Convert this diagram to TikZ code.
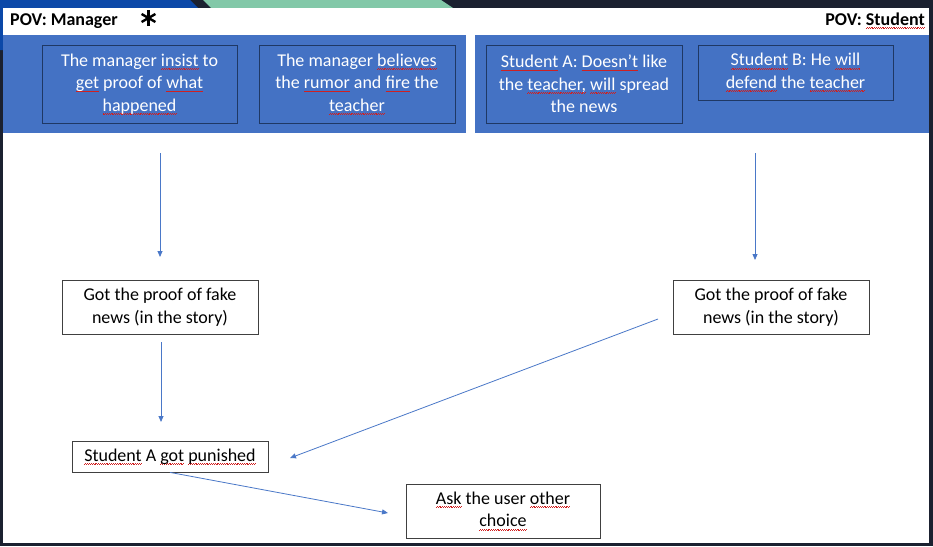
\documentclass[tikz,border=0pt]{standalone}
\usepackage{fontspec}
\setmainfont{Carlito}
\usetikzlibrary{arrows.meta}
\definecolor{darkbg}{HTML}{1B2130}
\definecolor{topblue}{HTML}{0B48A8}
\definecolor{topteal}{HTML}{82C8A8}
\definecolor{bandblue}{HTML}{4472C4}
\definecolor{boxline}{HTML}{1F3864}
\definecolor{arrblue}{HTML}{4A78C8}
\definecolor{spred}{HTML}{D02020}
\newsavebox\sqbox
\newcommand\sq[1]{\sbox\sqbox{#1}\leavevmode\rlap{\color{spred}\hbox to\wd\sqbox{\xleaders\hbox{\rule[-3.4pt]{0.9pt}{0.7pt}\rule[-2.7pt]{0.9pt}{0.7pt}}\hfill}}\usebox\sqbox}
\tikzset{
  bluebox/.style={draw=boxline, line width=0.9pt, fill=bandblue, text=white,
    inner sep=0pt, align=center, font=\fontsize{18}{22.5}\selectfont},
  whitebox/.style={draw=black!75, line width=0.8pt, fill=white, text=black,
    inner sep=0pt, align=center, font=\fontsize{18}{22.5}\selectfont},
  arr/.style={draw=arrblue, line width=0.8pt, -{Triangle[length=6pt,width=5pt]}},
  hdr/.style={font=\bfseries\fontsize{18}{22}\selectfont, inner sep=0pt}
}
\begin{document}
\begin{tikzpicture}[x=1pt,y=-1pt]
\fill[darkbg] (0,0) rectangle (933,546);
\useasboundingbox (0,0) rectangle (933,546);
\fill[topblue] (0,0) -- (190,0) -- (198,8) -- (3,8) -- (3,50) -- (0,50) -- cycle;
\fill[topteal] (203,0) -- (441,0) -- (453,8) -- (211,8) -- cycle;
\fill[white] (3,8) rectangle (929,543);
\fill[bandblue] (3,35) rectangle (466,133);
\fill[bandblue] (475,35) rectangle (929,133);

% header
\node[hdr, anchor=base west] (povm) at (10,25) {POV: Manager};
\node[hdr, anchor=base east] (povs) at (925,25) {POV: \sq{Student}};
\coordinate (star) at (148.5,18);
\foreach \a in {90,30,150}
  \draw[line width=2.4pt] (star) ++(\a:8) -- ++(\a+180:16);

% top boxes
\node[bluebox, minimum width=195pt, minimum height=78pt] (b1) at (139.5,84)
  {The manager \sq{insist} to\\ \sq{get} proof of \sq{what}\\ \sq{happened}};
\node[bluebox, minimum width=196pt, minimum height=78pt] (b2) at (357,84)
  {The manager \sq{believes}\\ the \sq{rumor} and \sq{fire} the\\ \sq{teacher}};
\node[bluebox, minimum width=196pt, minimum height=78pt] (b3) at (584,84)
  {\sq{Student} A: \sq{Doesn’t} like\\ the \sq{teacher,} \sq{will} spread\\ the news};
\node[bluebox, minimum width=195pt, minimum height=55pt] (b4) at (795.5,72.5)
  {\sq{Student} B: He \sq{will}\\ \sq{defend} the \sq{teacher}};

% lower boxes
\node[whitebox, minimum width=196pt, minimum height=54pt] (b5) at (160,307)
  {Got the proof of fake\\ news (in the story)};
\node[whitebox, minimum width=196pt, minimum height=54pt] (b6) at (771,307)
  {Got the proof of fake\\ news (in the story)};
\node[whitebox, minimum width=196pt, minimum height=31pt] (b7) at (170,456.5)
  {\sq{Student} A \sq{got} \sq{punished}};
\node[whitebox, minimum width=194pt, minimum height=54pt] (b8) at (503,511)
  {\sq{Ask} the user \sq{other}\\ \sq{choice}};

% connectors
\coordinate (a1s) at (160,153);
\coordinate (a1e) at (160,257);
\coordinate (a2s) at (755,153);
\coordinate (a2e) at (755,260);
\coordinate (a3s) at (161,342);
\coordinate (a3e) at (161,422);
\coordinate (a4s) at (658,319);
\coordinate (a4e) at (290,458);
\coordinate (a5e) at (388,513);
\draw[arr] (a1s) -- (a1e);
\draw[arr] (a2s) -- (a2e);
\draw[arr] (a3s) -- (a3e);
\draw[arr] (a4s) -- (a4e);
\draw[arr] (b7.south) -- (a5e);
\end{tikzpicture}
\end{document}
